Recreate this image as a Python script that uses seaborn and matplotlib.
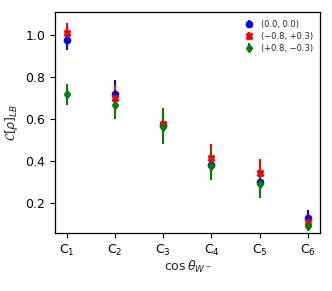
import numpy as np
import pandas as pd
import matplotlib
matplotlib.use("Agg")
import matplotlib.pyplot as plt
import seaborn as sns

# ==========================================
# Data
# ==========================================

bins = ["C$_1$", "C$_2$", "C$_3$", "C$_4$", "C$_5$", "C$_6$"]

blue_val = [0.98, 0.72, 0.575, 0.385, 0.30, 0.13]
blue_err = [0.05, 0.065, 0.06, 0.06, 0.06, 0.04]

red_val = [1.01, 0.70, 0.58, 0.415, 0.345, 0.11]
red_err = [0.05, 0.065, 0.075, 0.07, 0.065, 0.035]

green_val = [0.72, 0.67, 0.565, 0.38, 0.29, 0.092]
green_err = [0.05, 0.07, 0.08, 0.07, 0.065, 0.025]

labels = ["(0.0, 0.0)", "(\u22120.8, +0.3)", "(+0.8, \u22120.3)"]

# ==========================================
# Plot
# ==========================================

sns.set_style("ticks", {"axes.edgecolor": "black",
                        "xtick.color": "black", "ytick.color": "black"})

fig, ax = plt.subplots(figsize=(3.32, 2.91), dpi=100)

x = np.arange(len(bins))
series = [
    (blue_val, blue_err, "blue", "o", 4.5),
    (red_val, red_err, "red", "X", 4.5),
    (green_val, green_err, "green", "d", 4.5),
]

for (vals, errs, color, marker, ms), lab in zip(series, labels):
    ax.errorbar(
        x, vals, yerr=errs,
        fmt=marker, color=color, ms=ms,
        elinewidth=1.5, capsize=0, label=lab
    )

for side in ["top", "right", "left", "bottom"]:
    ax.spines[side].set_linewidth(0.9)

ax.set_xticks(x)
ax.set_xticklabels(bins, fontsize=9)
ax.set_yticks([0.2, 0.4, 0.6, 0.8, 1.0])
ax.tick_params(axis="y", labelsize=9)
ax.set_ylim(0.06, 1.11)
ax.set_xlim(-0.25, 5.26)

ax.set_xlabel(r"$\cos\theta_{W^-}$", fontsize=9, labelpad=1)
ax.set_ylabel(r"$\mathcal{C}[\rho]_{LB}$", fontsize=9)

ax.legend(loc="upper right", fontsize=6, frameon=False,
          handletextpad=0.4, labelspacing=0.35)

plt.subplots_adjust(left=0.165, right=0.965, top=0.958, bottom=0.2)
plt.savefig("out.png", dpi=100)
